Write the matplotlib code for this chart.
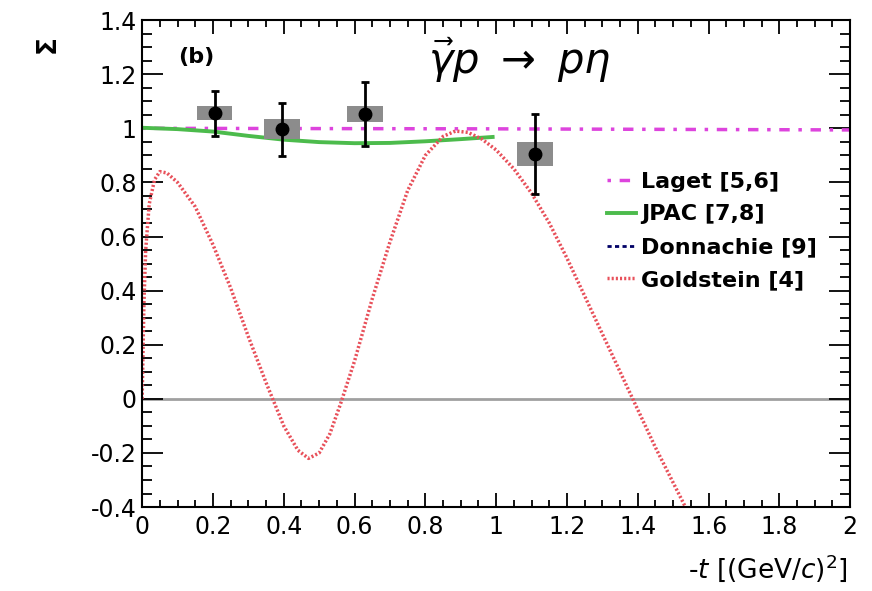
import numpy as np
import matplotlib
matplotlib.use("Agg")
import matplotlib.pyplot as plt
from matplotlib.patches import Rectangle
from matplotlib.ticker import MultipleLocator

# measured beam asymmetry
t_data = [0.205, 0.395, 0.63, 1.11]
sigma_data = [1.056, 0.997, 1.053, 0.905]
stat_err = [0.083, 0.098, 0.12, 0.147]
syst_err = [0.027, 0.036, 0.03, 0.043]

# model curves
laget_t = [0.0, 0.5, 1.0, 1.5, 2.0]
laget_s = [1.0, 0.999, 0.998, 0.996, 0.994]

jpac_t = [0.0, 0.1, 0.2, 0.3, 0.4, 0.5, 0.6, 0.7, 0.8, 0.9, 0.99]
jpac_s = [1.002, 0.997, 0.988, 0.972, 0.958, 0.949, 0.945, 0.946, 0.952, 0.96, 0.968]

donnachie_t = []
donnachie_s = []

gold_t = [0.0, 0.005, 0.01, 0.02, 0.035, 0.05, 0.07, 0.1, 0.15, 0.2, 0.25, 0.3,
          0.35, 0.4, 0.44, 0.47, 0.5, 0.53, 0.56, 0.6, 0.65, 0.7, 0.75, 0.8,
          0.85, 0.885, 0.92, 0.96, 1.0, 1.05, 1.1, 1.15, 1.2, 1.25, 1.3, 1.35,
          1.4, 1.45, 1.5, 1.55]
gold_s = [0.0, 0.35, 0.55, 0.72, 0.81, 0.84, 0.835, 0.8, 0.71, 0.57, 0.41, 0.23,
          0.06, -0.1, -0.19, -0.22, -0.2, -0.13, -0.02, 0.14, 0.37, 0.58, 0.77, 0.9,
          0.97, 0.99, 0.985, 0.96, 0.92, 0.85, 0.76, 0.65, 0.52, 0.38, 0.24, 0.1,
          -0.04, -0.18, -0.31, -0.44]

plt.rcParams['font.family'] = ['DejaVu Sans']
plt.rcParams['mathtext.fontset'] = 'dejavusans'

fig = plt.figure(figsize=(8.72, 5.91), dpi=100)
ax = fig.add_axes([0.163, 0.142, 0.812, 0.824])

ax.axhline(0, color='#a0a0a0', lw=2, zorder=1)

ax.plot(laget_t, laget_s, color='#dd44dd', lw=2.5, ls=(0, (1, 2.5, 3, 2.5)), label='Laget [5,6]', zorder=2)
ax.plot(jpac_t, jpac_s, color='#4cbb4c', lw=2.8, label='JPAC [7,8]', zorder=2)
ax.plot(donnachie_t, donnachie_s, color='#000066', lw=2, ls=(0, (1.5, 1.2)), label='Donnachie [9]', zorder=2)
ax.plot(gold_t, gold_s, color='#e8505a', lw=2.5, ls=(0, (0.6, 0.6)), label='Goldstein [4]', zorder=2)

for t, s, e in zip(t_data, sigma_data, syst_err):
    ax.add_patch(Rectangle((t - 0.05, s - e), 0.1, 2 * e, facecolor='#8c8c8c',
                           edgecolor='none', zorder=3))
ax.errorbar(t_data, sigma_data, yerr=stat_err, fmt='o', color='black', ms=9,
            lw=2, capsize=3, capthick=2, zorder=4)

ax.set_xlim(0, 2)
ax.set_ylim(-0.4, 1.4)
ax.xaxis.set_major_locator(MultipleLocator(0.2))
ax.xaxis.set_minor_locator(MultipleLocator(0.05))
ax.yaxis.set_major_locator(MultipleLocator(0.2))
ax.yaxis.set_minor_locator(MultipleLocator(0.05))

def fmt(v, pos):
    s = ('%.1f' % v).rstrip('0').rstrip('.')
    return '0' if s in ('-0', '0') else s

ax.xaxis.set_major_formatter(plt.FuncFormatter(fmt))
ax.yaxis.set_major_formatter(plt.FuncFormatter(fmt))
ax.tick_params(which='both', direction='in', top=True, right=True, width=1.3, labelsize=17)
ax.tick_params(axis='y', which='major', length=15, pad=4)
ax.tick_params(axis='y', which='minor', length=7.5)
ax.tick_params(axis='x', which='major', length=10, pad=6)
ax.tick_params(axis='x', which='minor', length=5)
for sp in ax.spines.values():
    sp.set_linewidth(1.5)

ax.text(0.152, 1.263, '(b)', fontsize=16, fontweight='bold', ha='center', va='center')
ax.text(1.065, 1.25, r'$\vec{\gamma}p\ \rightarrow\ p\eta$', fontsize=30, ha='center', va='center')

fig.text(0.055, 0.925, 'Σ', fontsize=19, fontweight='bold', rotation=90, ha='center', va='center')
fig.text(0.9725, 0.038, r'-$t$ [(GeV/$c$)$^2$]', fontsize=19, ha='right', va='center')

leg = ax.legend(loc='upper left', bbox_to_anchor=(0.656, 0.689), frameon=False,
                prop={'weight': 'bold', 'size': 16}, handlelength=1.3,
                handletextpad=0.25, labelspacing=0.58, borderaxespad=0, borderpad=0)

fig.savefig('out.png', dpi=100)
